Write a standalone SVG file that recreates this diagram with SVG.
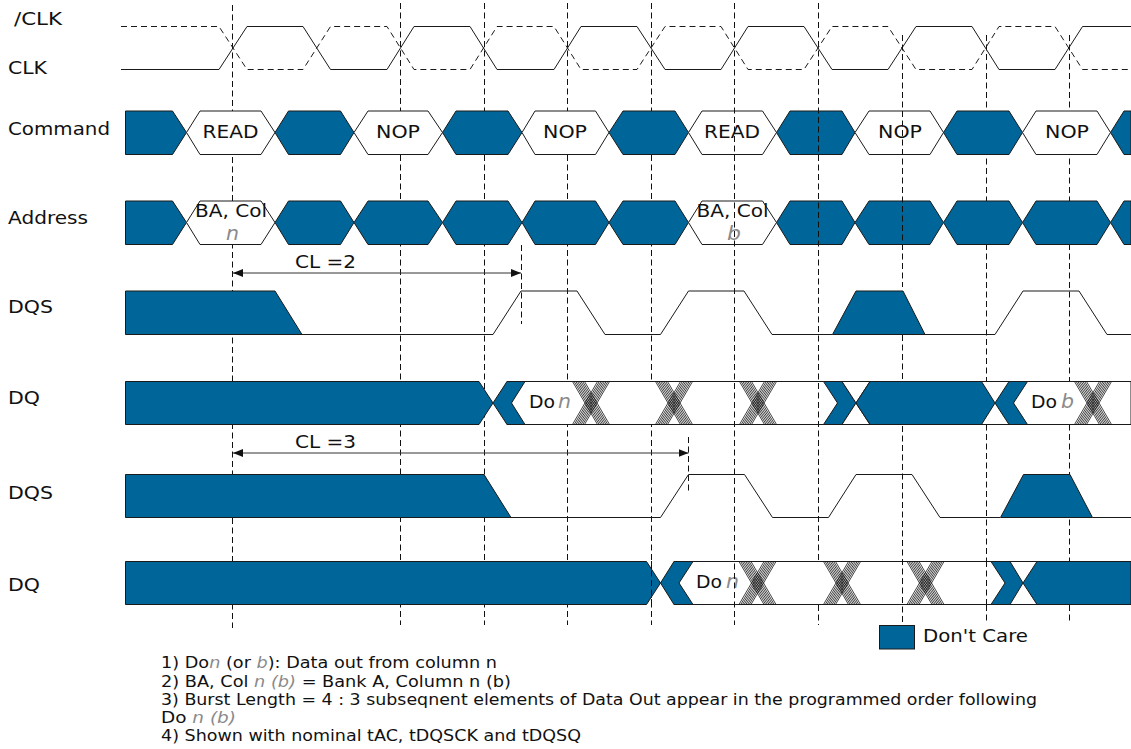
<svg xmlns="http://www.w3.org/2000/svg" xmlns:xlink="http://www.w3.org/1999/xlink" width="1131" height="749" viewBox="0 0 1131 749">
<style>
text{font-family:"DejaVu Sans","Verdana",sans-serif;fill:#111;font-size:18px}
.n{font-size:15px}
.g{fill:#8a8a8a;font-style:italic}
.i{fill:#8a8a8a;font-style:italic;font-size:20px}
.b{fill:#006699;stroke:#1a1a1a;stroke-width:1}
.w{fill:#fff;stroke:#1a1a1a;stroke-width:1}
.l{fill:none;stroke:#1a1a1a;stroke-width:1}
.d{fill:none;stroke:#1a1a1a;stroke-width:1;stroke-dasharray:6 4}
.v{fill:none;stroke:#111;stroke-width:1;stroke-dasharray:6 3.500}
.a{stroke:#333;stroke-width:1;fill:none;marker-start:url(#ah);marker-end:url(#ah)}
.h{fill:none;stroke:#111;stroke-width:.8}
</style>
<defs>
<marker id="ah" markerUnits="userSpaceOnUse" markerWidth="10" markerHeight="8" refX="10" refY="4" orient="auto-start-reverse"><path d="M0 0L10 4L0 8z" fill="#111"/></marker>
<g id="x"><path class="h" d="M-18.500 -21.500L6.500 21.500M-16.800 -21.500L8.200 21.500M-15.100 -21.500L9.900 21.500M-13.400 -21.500L11.600 21.500M-11.700 -21.500L13.300 21.500M-10 -21.500L15 21.500M-8.300 -21.500L16.700 21.500M-6.500 -21.500L18.500 21.500M18.500 -21.500L-6.500 21.500M16.800 -21.500L-8.200 21.500M15.100 -21.500L-9.900 21.500M13.400 -21.500L-11.600 21.500M11.700 -21.500L-13.300 21.500M10 -21.500L-15 21.500M8.300 -21.500L-16.700 21.500M6.500 -21.500L-18.500 21.500"/></g>
</defs>

<g id="grid-under">
<path class="v" d="M232.500 5V628M400.500 3V625M484.500 3V625M567.500 3V625M651.500 3V625M986.500 35V623M1069.500 35V623"/>
</g>

<g id="clk">
<path class="d" d="M121 26.500H219L247 69.500H303L330.500 26.500H387L414 69.500H470L497 26.500H554L581 69.500H637L665 26.500H721L748 69.500H804L832 26.500H888L916 69.500H972L999 26.500H1055L1082.500 69.500H1131"/>
<path class="l" d="M121 69.500H219L247 26.500H303L330.500 69.500H387L414 26.500H470L497 69.500H554L581 26.500H637L665 69.500H721L748 26.500H804L832 69.500H888L916 26.500H972L999 69.500H1055L1082.500 26.500H1131"/>
<text x="14" y="25" textLength="48" lengthAdjust="spacingAndGlyphs">/CLK</text>
<text x="8" y="74" textLength="39" lengthAdjust="spacingAndGlyphs">CLK</text>
</g>

<g id="command">
<path class="b" d="M125.500 111H172.500L186.500 132.500L172.500 154.500H125.500Z"/>
<path class="w" d="M186.500 132.500L200 111H261L275 132.500L261 154.500H200Z"/>
<path class="b" d="M275 132.500L288.500 111H340.500L354 132.500L340.500 154.500H288.500Z"/>
<path class="w" d="M354 132.500L368 111H428L442.500 132.500L428 154.500H368Z"/>
<path class="b" d="M442.500 132.500L456 111H508L522 132.500L508 154.500H456Z"/>
<path class="w" d="M522 132.500L535 111H595.500L609 132.500L595.500 154.500H535Z"/>
<path class="b" d="M609 132.500L623 111H675L688.500 132.500L675 154.500H623Z"/>
<path class="w" d="M688.500 132.500L702 111H762.500L776.500 132.500L762.500 154.500H702Z"/>
<path class="b" d="M776.500 132.500L790 111H842L855 132.500L842 154.500H790Z"/>
<path class="w" d="M855 132.500L869 111H930L943.500 132.500L930 154.500H869Z"/>
<path class="b" d="M943.500 132.500L957 111H1009L1022.500 132.500L1009 154.500H957Z"/>
<path class="w" d="M1022.500 132.500L1036 111H1097L1110.500 132.500L1097 154.500H1036Z"/>
<path class="b" d="M1110.500 132.500L1124 111H1131V154.500H1124Z"/>
<text x="8" y="135" textLength="102" lengthAdjust="spacingAndGlyphs">Command</text>
<text x="202.500" y="138" textLength="56" lengthAdjust="spacingAndGlyphs">READ</text>
<text x="376" y="138" textLength="44" lengthAdjust="spacingAndGlyphs">NOP</text>
<text x="543" y="138" textLength="44" lengthAdjust="spacingAndGlyphs">NOP</text>
<text x="704" y="138" textLength="56" lengthAdjust="spacingAndGlyphs">READ</text>
<text x="878" y="138" textLength="44" lengthAdjust="spacingAndGlyphs">NOP</text>
<text x="1045" y="138" textLength="44" lengthAdjust="spacingAndGlyphs">NOP</text>
</g>

<g id="address">
<path class="b" d="M125.500 201H172.500L186.500 222.500L172.500 244.500H125.500Z"/>
<path class="w" d="M186.500 222.500L200 201H261L275 222.500L261 244.500H200Z"/>
<path class="b" d="M275 222.500L288.500 201H340.500L354 222.500L340.500 244.500H288.500Z"/>
<path class="b" d="M354 222.500L368 201H428L442.500 222.500L428 244.500H368Z"/>
<path class="b" d="M442.500 222.500L456 201H508L522 222.500L508 244.500H456Z"/>
<path class="b" d="M522 222.500L535 201H595.500L609 222.500L595.500 244.500H535Z"/>
<path class="b" d="M609 222.500L623 201H675L688.500 222.500L675 244.500H623Z"/>
<path class="w" d="M688.500 222.500L702 201H762.500L776.500 222.500L762.500 244.500H702Z"/>
<path class="b" d="M776.500 222.500L790 201H842L855 222.500L842 244.500H790Z"/>
<path class="b" d="M855 222.500L869 201H930L943.500 222.500L930 244.500H869Z"/>
<path class="b" d="M943.500 222.500L957 201H1009L1022.500 222.500L1009 244.500H957Z"/>
<path class="b" d="M1022.500 222.500L1036 201H1097L1110.500 222.500L1097 244.500H1036Z"/>
<path class="b" d="M1110.500 222.500L1124 201H1131V244.500H1124Z"/>
<text x="8" y="224" textLength="80" lengthAdjust="spacingAndGlyphs">Address</text>
<text x="195" y="217" textLength="72" lengthAdjust="spacingAndGlyphs">BA, Col</text>
<text class="i" x="226" y="240" textLength="13" lengthAdjust="spacingAndGlyphs">n</text>
<text x="696.500" y="217" textLength="72" lengthAdjust="spacingAndGlyphs">BA, Col</text>
<text class="i" x="727" y="240" textLength="14" lengthAdjust="spacingAndGlyphs">b</text>
</g>

<g id="dqs1">
<path class="l" d="M302 334.500H493L521 291H577L605 334.500H660.500L688.500 291H744L772 334.500H832.500M925 334.500H995L1023 291H1079L1107 334.500H1131"/>
<path class="b" d="M125.500 291H275L302 334.500H125.500Z"/>
<path class="b" d="M832.500 334.500L856 291H903L925 334.500Z"/>
<text x="8" y="313" textLength="45" lengthAdjust="spacingAndGlyphs">DQS</text>
</g>

<g id="dq1">
<path class="w" d="M507 381.500H1131V424.500H507Z"/>
<path class="b" d="M125.500 381.500H479L493 403L479 424.500H125.500Z"/>
<path class="b" d="M493 403L507 381.500H525L511.500 403L525 424.500H507Z"/>
<use xlink:href="#x" href="#x" x="591" y="403"/>
<use xlink:href="#x" href="#x" x="674" y="403"/>
<use xlink:href="#x" href="#x" x="758" y="403"/>
<path class="b" d="M823.500 381.500H842L856 403L842 424.500H823.500L837.500 403Z"/>
<path class="w" d="M842 381.500H870L856 403L870 424.500H842L856 403Z"/>
<path class="b" d="M856 403L870 381.500H981.500L995 403L981.500 424.500H870Z"/>
<path class="b" d="M995 403L1009 381.500H1027.500L1013.500 403L1027.500 424.500H1009Z"/>
<use xlink:href="#x" href="#x" x="1093" y="403"/>
<text x="8" y="404" textLength="32" lengthAdjust="spacingAndGlyphs">DQ</text>
<text x="529" y="408" textLength="26" lengthAdjust="spacingAndGlyphs">Do</text>
<text class="i" x="558" y="408" textLength="13" lengthAdjust="spacingAndGlyphs">n</text>
<text x="1031" y="408" textLength="26" lengthAdjust="spacingAndGlyphs">Do</text>
<text class="i" x="1061" y="408" textLength="13" lengthAdjust="spacingAndGlyphs">b</text>
</g>

<g id="dqs2">
<path class="l" d="M511 517.500H660.500L688.500 474.500H744.500L772.500 517.500H828.500L856 474.500H912L940 517.500H1000M1092.500 517.500H1131"/>
<path class="b" d="M125.500 474.500H484L511 517.500H125.500Z"/>
<path class="b" d="M1000.500 517.500L1023.500 474.500H1070L1092.500 517.500Z"/>
<text x="8" y="499" textLength="45" lengthAdjust="spacingAndGlyphs">DQS</text>
</g>

<g id="dq2">
<path class="w" d="M674 561.500H1037V604.500H674Z"/>
<path class="b" d="M125.500 561.500H646.500L660.500 583L646.500 604.500H125.500Z"/>
<path class="b" d="M660.500 583L674 561.500H693L679 583L693 604.500H674Z"/>
<use xlink:href="#x" href="#x" x="757.500" y="583"/>
<use xlink:href="#x" href="#x" x="842" y="583"/>
<use xlink:href="#x" href="#x" x="925.500" y="583"/>
<path class="b" d="M991 561.500H1010L1023 583L1010 604.500H991L1005 583Z"/>
<path class="b" d="M1023 583L1037 561.500H1131V604.500H1037Z"/>
<text x="8" y="591" textLength="32" lengthAdjust="spacingAndGlyphs">DQ</text>
<text x="696" y="588" textLength="26" lengthAdjust="spacingAndGlyphs">Do</text>
<text class="i" x="726" y="588" textLength="13" lengthAdjust="spacingAndGlyphs">n</text>
</g>

<g id="connectors">
<path class="a" d="M233 273H521"/>
<path class="a" d="M233 453H688.500"/>
<path class="v" d="M521.500 245V324M688.500 437V494"/>
<path class="v" d="M734.500 3V625M818.500 3V561M818.500 605V625M902.500 35V287M902.500 335V380M902.500 426V622M986.500 561V604M651.500 561V604"/>
</g>
<text x="295" y="268" textLength="61" lengthAdjust="spacingAndGlyphs">CL =2</text>
<text x="295" y="448" textLength="61" lengthAdjust="spacingAndGlyphs">CL =3</text>

<g id="legend">
<rect class="b" x="879.500" y="625.500" width="35" height="23.500"/>
<text x="923" y="642" textLength="105" lengthAdjust="spacingAndGlyphs">Don't Care</text>
</g>

<g id="notes">
<text class="n" x="161" y="668" textLength="336" lengthAdjust="spacingAndGlyphs">1) Do<tspan class="g">n</tspan> (or <tspan class="g">b</tspan>): Data out from column n</text>
<text class="n" x="161" y="687" textLength="350" lengthAdjust="spacingAndGlyphs">2) BA, Col <tspan class="g">n (b)</tspan> = Bank A, Column n (b)</text>
<text class="n" x="161" y="705" textLength="876" lengthAdjust="spacingAndGlyphs">3) Burst Length = 4 : 3 subseqnent elements of Data Out appear in the programmed order following</text>
<text class="n" x="161" y="723" textLength="75" lengthAdjust="spacingAndGlyphs">Do <tspan class="g">n (b)</tspan></text>
<text class="n" x="161" y="741" textLength="420" lengthAdjust="spacingAndGlyphs">4) Shown with nominal tAC, tDQSCK and tDQSQ</text>
</g>
</svg>
